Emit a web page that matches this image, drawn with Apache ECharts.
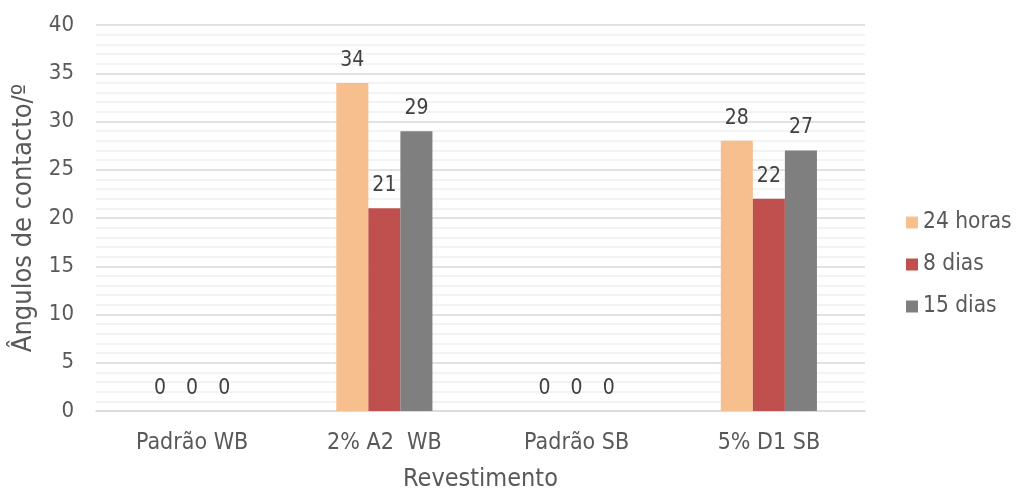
<!DOCTYPE html>
<html>
<head>
<meta charset="utf-8">
<script src="https://cdn.jsdelivr.net/npm/echarts@6/dist/echarts.min.js"></script>
<style>
  html, body { margin: 0; padding: 0; background: #fff; }
  #chart { width: 1019px; height: 492px; }
</style>
</head>
<body>
<div id="chart"></div>
<script>
// Contact angles per coating, measured at three ages
const categories = ['Padrão WB', '2% A2  WB', 'Padrão SB', '5% D1 SB'];
const seriesNames = ['24 horas', '8 dias', '15 dias'];
const horas24 = [0, 34, 0, 28];
const dias8 = [0, 21, 0, 22];
const dias15 = [0, 29, 0, 27];
const colors = ['#F8BF8E', '#C0504D', '#7F7F7F'];

const FONT = '"DejaVu Sans Condensed", "DejaVu Sans", sans-serif';
const TEXT = '#595959';

const chart = echarts.init(document.getElementById('chart'));

function barSeries(name, data, color) {
  return {
    name: name,
    type: 'bar',
    data: data,
    barGap: '0%',
    barCategoryGap: '50%',
    itemStyle: { color: color },
    label: {
      show: true,
      position: 'top',
      distance: 12,
      color: '#404040',
      fontSize: 21,
      fontFamily: FONT
    }
  };
}

chart.setOption({
  animation: false,
  textStyle: { fontFamily: FONT },
  grid: { left: 96, right: 154, top: 25, bottom: 81, outerBoundsMode: 'none', containLabel: false },
  legend: {
    orient: 'vertical',
    left: 901,
    top: 206,
    itemWidth: 12,
    itemHeight: 12,
    itemGap: 19,
    icon: 'rect',
    textStyle: { color: TEXT, fontSize: 22.5, fontFamily: FONT },
    data: seriesNames
  },
  xAxis: {
    type: 'category',
    data: categories,
    name: 'Revestimento',
    nameLocation: 'middle',
    nameGap: 56,
    nameTextStyle: { color: TEXT, fontSize: 25, fontFamily: FONT },
    axisLine: { lineStyle: { color: '#D9D9D9', width: 1.5 } },
    axisTick: { show: false },
    axisLabel: { color: TEXT, fontSize: 23, margin: 21, fontFamily: FONT }
  },
  yAxis: {
    type: 'value',
    min: 0,
    max: 40,
    interval: 5,
    name: 'Ângulos de contacto/º',
    nameLocation: 'middle',
    nameGap: 54,
    nameTextStyle: { color: TEXT, fontSize: 27, fontFamily: FONT },
    axisLine: { show: false },
    axisTick: { show: false },
    axisLabel: { color: TEXT, fontSize: 22, margin: 22, fontFamily: FONT },
    splitLine: { lineStyle: { color: '#D9D9D9', width: 1.5 } },
    minorTick: { show: false, splitNumber: 5 },
    minorSplitLine: { show: true, lineStyle: { color: '#F0F0F0', width: 1.5 } }
  },
  series: [
    barSeries(seriesNames[0], horas24, colors[0]),
    barSeries(seriesNames[1], dias8, colors[1]),
    barSeries(seriesNames[2], dias15, colors[2])
  ]
});
</script>
</body>
</html>
